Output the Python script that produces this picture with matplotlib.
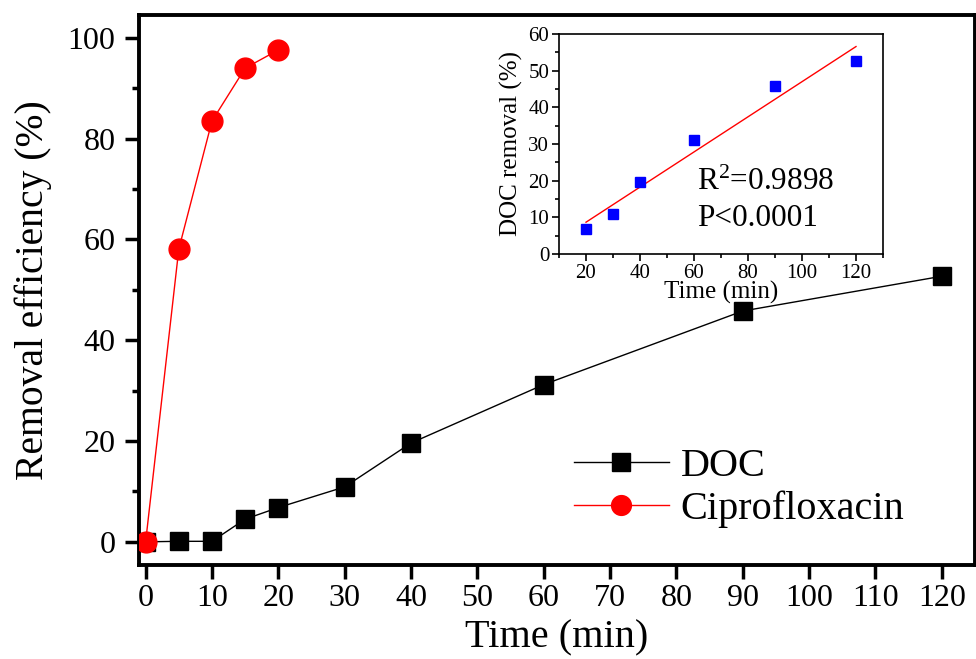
import numpy as np
import matplotlib
matplotlib.use("Agg")
import matplotlib.pyplot as plt
from matplotlib.ticker import MultipleLocator

plt.rcParams['font.family'] = ['Liberation Serif', 'DejaVu Serif']

# data
time_doc = [0, 5, 10, 15, 20, 30, 40, 60, 90, 120]
doc_removal = [0, 0.1, 0.1, 4.5, 6.8, 10.9, 19.6, 31.2, 45.8, 52.7]
time_cip = [0, 5, 10, 15, 20]
cip_removal = [0, 58.1, 83.5, 94.0, 97.6]

# inset: DOC removal after 20 min with linear fit
time_fit = [20, 30, 40, 60, 90, 120]
doc_fit = [6.8, 10.9, 19.6, 31.2, 45.8, 52.7]
r2_text = r'R$\mathregular{^2}$=0.9898'
p_text = 'P<0.0001'

fig = plt.figure(figsize=(9.76, 6.59), dpi=100)
ax = fig.add_axes([139/976, 1 - 565/659, 836/976, 550.3/659])

ax.plot(time_doc, doc_removal, color='black', lw=1, marker='s', ms=13,
        mec='black', mfc='black', label='DOC', zorder=3)
ax.plot(time_cip, cip_removal, color='red', lw=1, marker='o', ms=15,
        mec='red', mfc='red', label='Ciprofloxacin', zorder=4)

ax.set_xlim(-1, 125)
ax.set_ylim(-4.6, 104.6)
ax.xaxis.set_major_locator(MultipleLocator(10))
ax.yaxis.set_major_locator(MultipleLocator(20))
ax.yaxis.set_minor_locator(MultipleLocator(10))
ax.tick_params(axis='both', which='major', direction='out', length=10, width=2.5,
               labelsize=23, top=False, right=False)
ax.tick_params(axis='y', which='major', pad=7)
ax.tick_params(axis='x', which='major', pad=4)
ax.tick_params(axis='y', which='minor', direction='out', length=5, width=2.5)
for s in ax.spines.values():
    s.set_linewidth(2.8)

ax.set_xlabel('Time (min)', fontsize=29, labelpad=4)
ax.set_ylabel('Removal efficiency (%)', fontsize=28.5, labelpad=11)

leg = ax.legend(loc='center left', bbox_to_anchor=(574/976, 1 - 488/659),
                bbox_transform=fig.transFigure, frameon=False, fontsize=29,
                handlelength=2.35, handletextpad=0.3, labelspacing=0.15,
                borderpad=0, borderaxespad=0, markerscale=0.95)

# inset
ins = fig.add_axes([559/976, 1 - 254/659, 324/976, 220/659])
ins.plot(time_fit, doc_fit, 's', color='blue', ms=6.5, zorder=3)
slope, icpt = np.polyfit(time_fit, doc_fit, 1)
xf = np.array([min(time_fit), max(time_fit)])
ins.plot(xf, slope * xf + icpt, color='red', lw=1)
ins.set_xlim(10, 130)
ins.set_ylim(0, 60)
ins.xaxis.set_major_locator(MultipleLocator(20))
ins.xaxis.set_minor_locator(MultipleLocator(10))
ins.yaxis.set_major_locator(MultipleLocator(10))
ins.yaxis.set_minor_locator(MultipleLocator(5))
ins.tick_params(axis='both', which='major', direction='out', length=5, width=1.2,
                labelsize=15, pad=2)
ins.tick_params(axis='both', which='minor', direction='out', length=3, width=1.2)
for s in ins.spines.values():
    s.set_linewidth(1.2)
ins.set_xlabel('Time (min)', fontsize=18, labelpad=-1)
ins.set_ylabel('DOC removal (%)', fontsize=18, labelpad=4)
ins.text(61, 17.5, r2_text, fontsize=22.5, va='baseline')
ins.text(61, 7.7, p_text, fontsize=22.5, va='baseline')

fig.savefig('out.png', dpi=100)
